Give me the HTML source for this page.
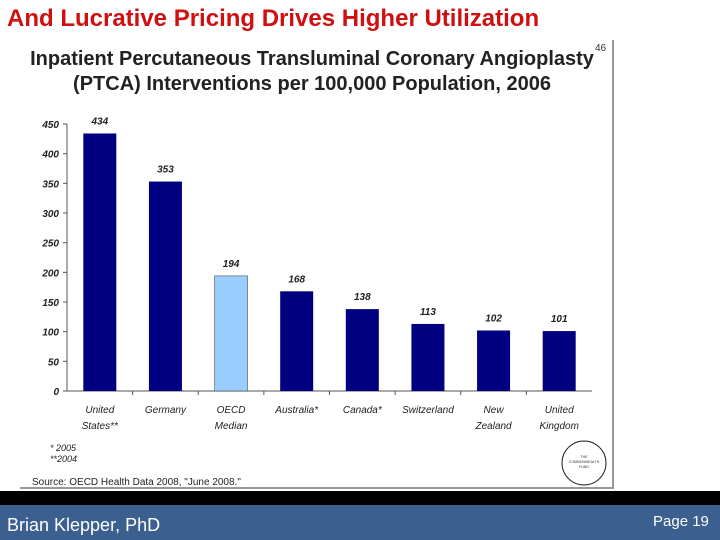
<!DOCTYPE html>
<html><head><meta charset="utf-8"><style>
body{margin:0;width:720px;height:540px;overflow:hidden;background:#fff;font-family:"Liberation Sans",sans-serif;position:relative}
.t{position:absolute}
</style></head><body>
<div class="t" style="left:7px;top:5px;font-size:24px;font-weight:bold;color:#d01010;white-space:nowrap">And Lucrative Pricing Drives Higher Utilization</div>
<div style="position:absolute;left:20px;top:40px;width:592px;height:447px;border-right:2px solid #999;border-bottom:2px solid #999"></div>
<svg id="c" width="720" height="540" style="position:absolute;left:0;top:0">
<text x="312" y="65" text-anchor="middle" font-size="20" font-weight="bold" fill="#222">Inpatient Percutaneous Transluminal Coronary Angioplasty</text>
<text x="312" y="90" text-anchor="middle" font-size="20" font-weight="bold" fill="#222">(PTCA) Interventions per 100,000 Population, 2006</text>
<text x="595" y="51" font-size="10" fill="#333">46</text>
<text x="50" y="451" font-size="9" font-style="italic" fill="#222">* 2005</text>
<text x="50" y="462" font-size="9" font-style="italic" fill="#222">**2004</text>
<text x="32" y="485" font-size="10" fill="#222">Source: OECD Health Data 2008, "June 2008."</text>
<ellipse cx="584" cy="463" rx="22" ry="22" fill="none" stroke="#222"/>
<text x="584" y="458" text-anchor="middle" font-size="3.5" fill="#333">THE</text>
<text x="584" y="463" text-anchor="middle" font-size="3.5" fill="#333">COMMONWEALTH</text>
<text x="584" y="468" text-anchor="middle" font-size="3.5" fill="#333">FUND</text>
<g id="g"></g>
</svg>
<div style="position:absolute;left:0;top:491px;width:720px;height:14px;background:#000"></div>
<div style="position:absolute;left:0;top:505px;width:720px;height:35px;background:#3b5f8e"></div>
<div class="t" style="left:7px;top:515px;font-size:18px;color:#fff">Brian Klepper, PhD</div>
<div class="t" style="left:653px;top:513px;font-size:15px;color:#fff">Page 19</div>
<script>
const categories=[["United","States**"],["Germany",""],["OECD","Median"],["Australia*",""],["Canada*",""],["Switzerland",""],["New","Zealand"],["United","Kingdom"]];
const values=[434,353,194,168,138,113,102,101];
const highlight=[false,false,true,false,false,false,false,false];
const yTicks=[0,50,100,150,200,250,300,350,400,450];
const NS="http://www.w3.org/2000/svg",g=document.getElementById('g');
const x0=67,x1=592,y0=391,y1=124,yMax=450,step=(x1-x0)/categories.length,bw=33;
const y=v=>y0-(v/yMax)*(y0-y1);
const xc=i=>x0+step*(i+0.5);
function mk(t,a){const e=document.createElementNS(NS,t);for(const k in a)e.setAttribute(k,a[k]);g.appendChild(e);return e;}
let ax=mk('line',{x1:x0,y1:y1,x2:x0,y2:y0,stroke:'#555'});


let bx=mk('line',{x1:x0,y1:y0,x2:x1,y2:y0,stroke:'#555'});


yTicks.forEach(v=>{mk('line',{x1:x0-4,y1:y(v),x2:x0,y2:y(v),stroke:'#555'});
const t=mk('text',{x:x0-8,y:y(v)+4,'text-anchor':'end','font-size':10,'font-style':'italic','font-weight':'bold',fill:'#222'});t.textContent=v;

});
values.forEach((v,i)=>{
const r=mk('rect',{x:xc(i)-bw/2,y:y(v),width:bw,height:y0-y(v),fill:highlight[i]?'#99ccff':'#000080',stroke:highlight[i]?'#333':'none','stroke-width':0.5});


const l=mk('text',{x:xc(i),y:y(v)-9,'text-anchor':'middle','font-size':10,'font-style':'italic','font-weight':'bold',fill:'#222'});l.textContent=v;


if(i>0)mk('line',{x1:x0+step*i,y1:y0,x2:x0+step*i,y2:y0+4,stroke:'#555'});
categories[i].forEach((s,j)=>{const c=mk('text',{x:xc(i),y:y0+22+j*16,'text-anchor':'middle','font-size':10,'font-style':'italic',fill:'#222'});c.textContent=s;

});
});
</script>
</body></html>
